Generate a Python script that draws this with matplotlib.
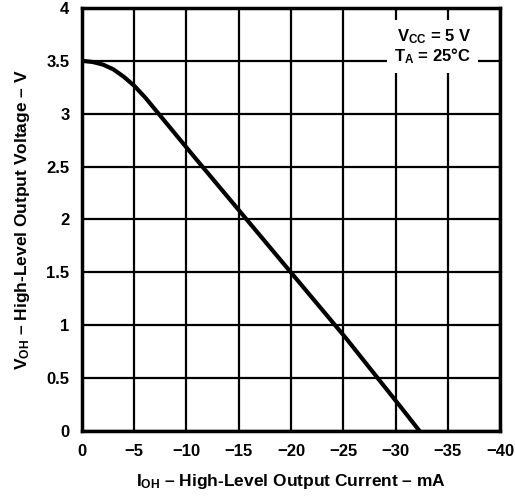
import matplotlib
matplotlib.use("Agg")
from matplotlib import pyplot as plt
import numpy as np

# output current (mA) and output voltage (V)
i_oh = [0, -1, -2, -3, -4, -5, -6, -7, -8, -10, -15, -20, -25, -30, -32.3]
v_oh = [3.5, 3.49, 3.465, 3.42, 3.35, 3.265, 3.16, 3.04, 2.92, 2.68, 2.09, 1.50, 0.91, 0.29, 0.0]

x_ticks = [0, -5, -10, -15, -20, -25, -30, -35, -40]
y_ticks = [0, 0.5, 1, 1.5, 2, 2.5, 3, 3.5, 4]
y_labels = ["0", "0.5", "1", "1.5", "2", "2.5", "3", "3.5", "4"]

plt.rcParams['font.family'] = ['Liberation Sans', 'DejaVu Sans']
plt.rcParams['font.weight'] = 'bold'
plt.rcParams['mathtext.fontset'] = 'custom'
plt.rcParams['mathtext.rm'] = 'Liberation Sans:bold'
plt.rcParams['mathtext.it'] = 'Liberation Sans:bold'
plt.rcParams['mathtext.bf'] = 'Liberation Sans:bold'
plt.rcParams['mathtext.default'] = 'rm'

fig = plt.figure(figsize=(5.15, 4.96), dpi=100)
ax = fig.add_axes([0.159, 0.131, 0.812, 0.853])

# smooth the knee a little
xs = np.linspace(0, -32.3, 400)
ys = np.interp(-xs, [-v for v in i_oh], v_oh)
ax.plot(xs, ys, color='black', lw=3, solid_capstyle='butt', zorder=3)

ax.set_xlim(0, -40)
ax.set_ylim(0, 4)
ax.set_xticks(x_ticks)
ax.set_yticks(y_ticks)
ax.set_yticklabels(y_labels)
ax.grid(True, color='black', lw=1.6)
ax.tick_params(length=0, labelsize=12, pad=9)
for lbl in ax.get_xticklabels() + ax.get_yticklabels():
    lbl.set_fontweight('bold')
for s in ax.spines.values():
    s.set_linewidth(2.5)

ax.set_xlabel(r"$I_{OH}$ – High-Level Output Current – mA", fontsize=12.5,
              fontweight='bold', labelpad=10)
ax.set_ylabel(r"$V_{OH}$ – High-Level Output Voltage – V", fontsize=12.5,
              fontweight='bold', labelpad=10)

ax.text(0.93, 0.955, "$V_{CC}$ = 5 V\n$T_A$ = 25°C", transform=ax.transAxes,
        ha='right', va='top', fontsize=12, fontweight='bold', linespacing=1.05,
        zorder=4, bbox=dict(facecolor='white', edgecolor='none', pad=5))

fig.savefig("out.png", dpi=100)
